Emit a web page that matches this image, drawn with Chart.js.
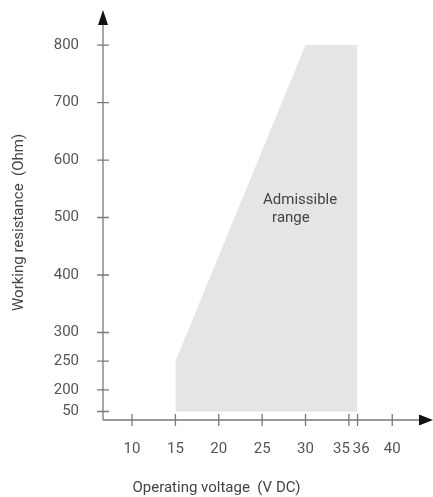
<!DOCTYPE html>
<html>
<head>
<meta charset="utf-8">
<title>Admissible range</title>
<script src="https://cdn.jsdelivr.net/npm/chart.js@4.4.0/dist/chart.umd.min.js"></script>
<style>
  html, body { margin: 0; padding: 0; background: #fff; }
</style>
</head>
<body>
<canvas id="chart" width="433" height="497"></canvas>
<script>
  "use strict";

  // --- data ---
  const xTicks = [10, 15, 20, 25, 30, 35, 36, 40];          // V DC
  const yTicks = [50, 200, 250, 300, 400, 500, 600, 700, 800]; // Ohm
  const edgeVoltage = [15, 15, 30, 36];                       // upper edge of the range
  const edgeResistance = [50, 250, 800, 800];
  const rangeFloor = 50;                                      // lower edge of the range

  // y axis is squeezed below 200 Ohm (the 50 tick sits close to 200)
  const SPLIT = 200, SQUEEZE = 0.25;
  const warp = (v) => (v >= SPLIT ? v : SPLIT - (SPLIT - v) * SQUEEZE);
  const unwarp = (t) => (t >= SPLIT ? t : SPLIT - (SPLIT - t) / SQUEEZE);

  class BrokenScale extends Chart.LinearScale {
    getPixelForValue(value) {
      const a = warp(this.min), b = warp(this.max);
      return this.getPixelForDecimal((warp(value) - a) / (b - a));
    }
    getValueForPixel(pixel) {
      const a = warp(this.min), b = warp(this.max);
      return unwarp(a + this.getDecimalForPixel(pixel) * (b - a));
    }
  }
  BrokenScale.id = "broken";
  BrokenScale.defaults = Chart.LinearScale.defaults;
  Chart.register(BrokenScale);

  // no extra label padding, the chart area is pinned by layout.padding + afterFit
  const noPad = (s) => { s.paddingTop = s.paddingBottom = s.paddingLeft = s.paddingRight = 0; };

  // axis lines, crossing tick marks, arrow heads and the area label
  const axisArrows = {
    id: "axisArrows",
    afterDatasetsDraw(chart) {
      const { ctx, chartArea: a, scales: { x, y } } = chart;
      ctx.save();
      ctx.strokeStyle = "#7a7a7a";
      ctx.lineWidth = 1.3;
      ctx.beginPath();
      ctx.moveTo(a.left, a.bottom); ctx.lineTo(a.left, a.top + 10);
      ctx.moveTo(a.left, a.bottom); ctx.lineTo(a.right - 10, a.bottom);
      x.ticks.forEach((t) => {
        const p = x.getPixelForValue(t.value);
        ctx.moveTo(p, a.bottom - 6); ctx.lineTo(p, a.bottom + 6);
      });
      y.ticks.forEach((t) => {
        const p = y.getPixelForValue(t.value);
        ctx.moveTo(a.left - 6, p); ctx.lineTo(a.left + 6, p);
      });
      ctx.stroke();

      ctx.fillStyle = "#111";
      ctx.beginPath();
      ctx.moveTo(a.left, a.top); ctx.lineTo(a.left - 5, a.top + 15); ctx.lineTo(a.left + 5, a.top + 15);
      ctx.closePath();
      ctx.moveTo(a.right, a.bottom); ctx.lineTo(a.right - 14, a.bottom - 5.5); ctx.lineTo(a.right - 14, a.bottom + 5.5);
      ctx.closePath();
      ctx.fill();

      ctx.fillStyle = "#444";
      ctx.font = "15px Roboto";
      ctx.textAlign = "left";
      ctx.textBaseline = "middle";
      ctx.fillText("Admissible", x.getPixelForValue(25.1), y.getPixelForValue(530));
      ctx.fillText("range", x.getPixelForValue(26.15), y.getPixelForValue(499));
      ctx.restore();
    },
  };

  Chart.defaults.font.family = "Roboto";
  Chart.defaults.font.size = 15;
  Chart.defaults.color = "#555";

  new Chart(document.getElementById("chart"), {
    type: "scatter",
    data: {
      datasets: [{
        data: edgeVoltage.map((v, i) => ({ x: v, y: edgeResistance[i] })),
        showLine: true,
        pointRadius: 0,
        borderWidth: 0,
        borderColor: "#e5e5e7",
        backgroundColor: "#e5e5e7",
        fill: { value: rangeFloor },
      }],
    },
    options: {
      responsive: false,
      animation: false,
      layout: { padding: { top: 10, left: 0, right: 0, bottom: 0 } },
      plugins: {
        legend: { display: false },
        tooltip: { enabled: false },
        title: {
          display: true,
          position: "bottom",
          text: "Operating voltage  (V DC)",
          color: "#444",
          font: { size: 15, weight: "normal" },
          padding: { top: 0, bottom: 0 },
        },
      },
      scales: {
        x: {
          type: "linear",
          min: 6.65,
          max: 44.7,
          border: { display: false },
          grid: { display: false, drawTicks: false },
          afterBuildTicks: (s) => { s.ticks = xTicks.map((v) => ({ value: v })); },
          afterFit: (s) => { s.height = 59; noPad(s); },
          ticks: {
            padding: 20,
            autoSkip: false,
            maxRotation: 0,
            // nudge the two crowded labels apart
            callback: (v) => (v === 35 ? "35    " : v === 36 ? "  36" : String(v)),
          },
        },
        y: {
          type: "broken",
          min: -9,
          max: 861,
          border: { display: false },
          grid: { display: false, drawTicks: false },
          afterBuildTicks: (s) => { s.ticks = yTicks.map((v) => ({ value: v })); },
          afterFit: (s) => { s.width = 103; noPad(s); },
          ticks: { padding: 24, autoSkip: false },
          title: {
            display: true,
            text: "Working resistance  (Ohm)    ",
            color: "#444",
            font: { size: 15 },
            padding: { top: 10, bottom: 0 },
          },
        },
      },
    },
    plugins: [axisArrows],
  });
</script>
</body>
</html>
